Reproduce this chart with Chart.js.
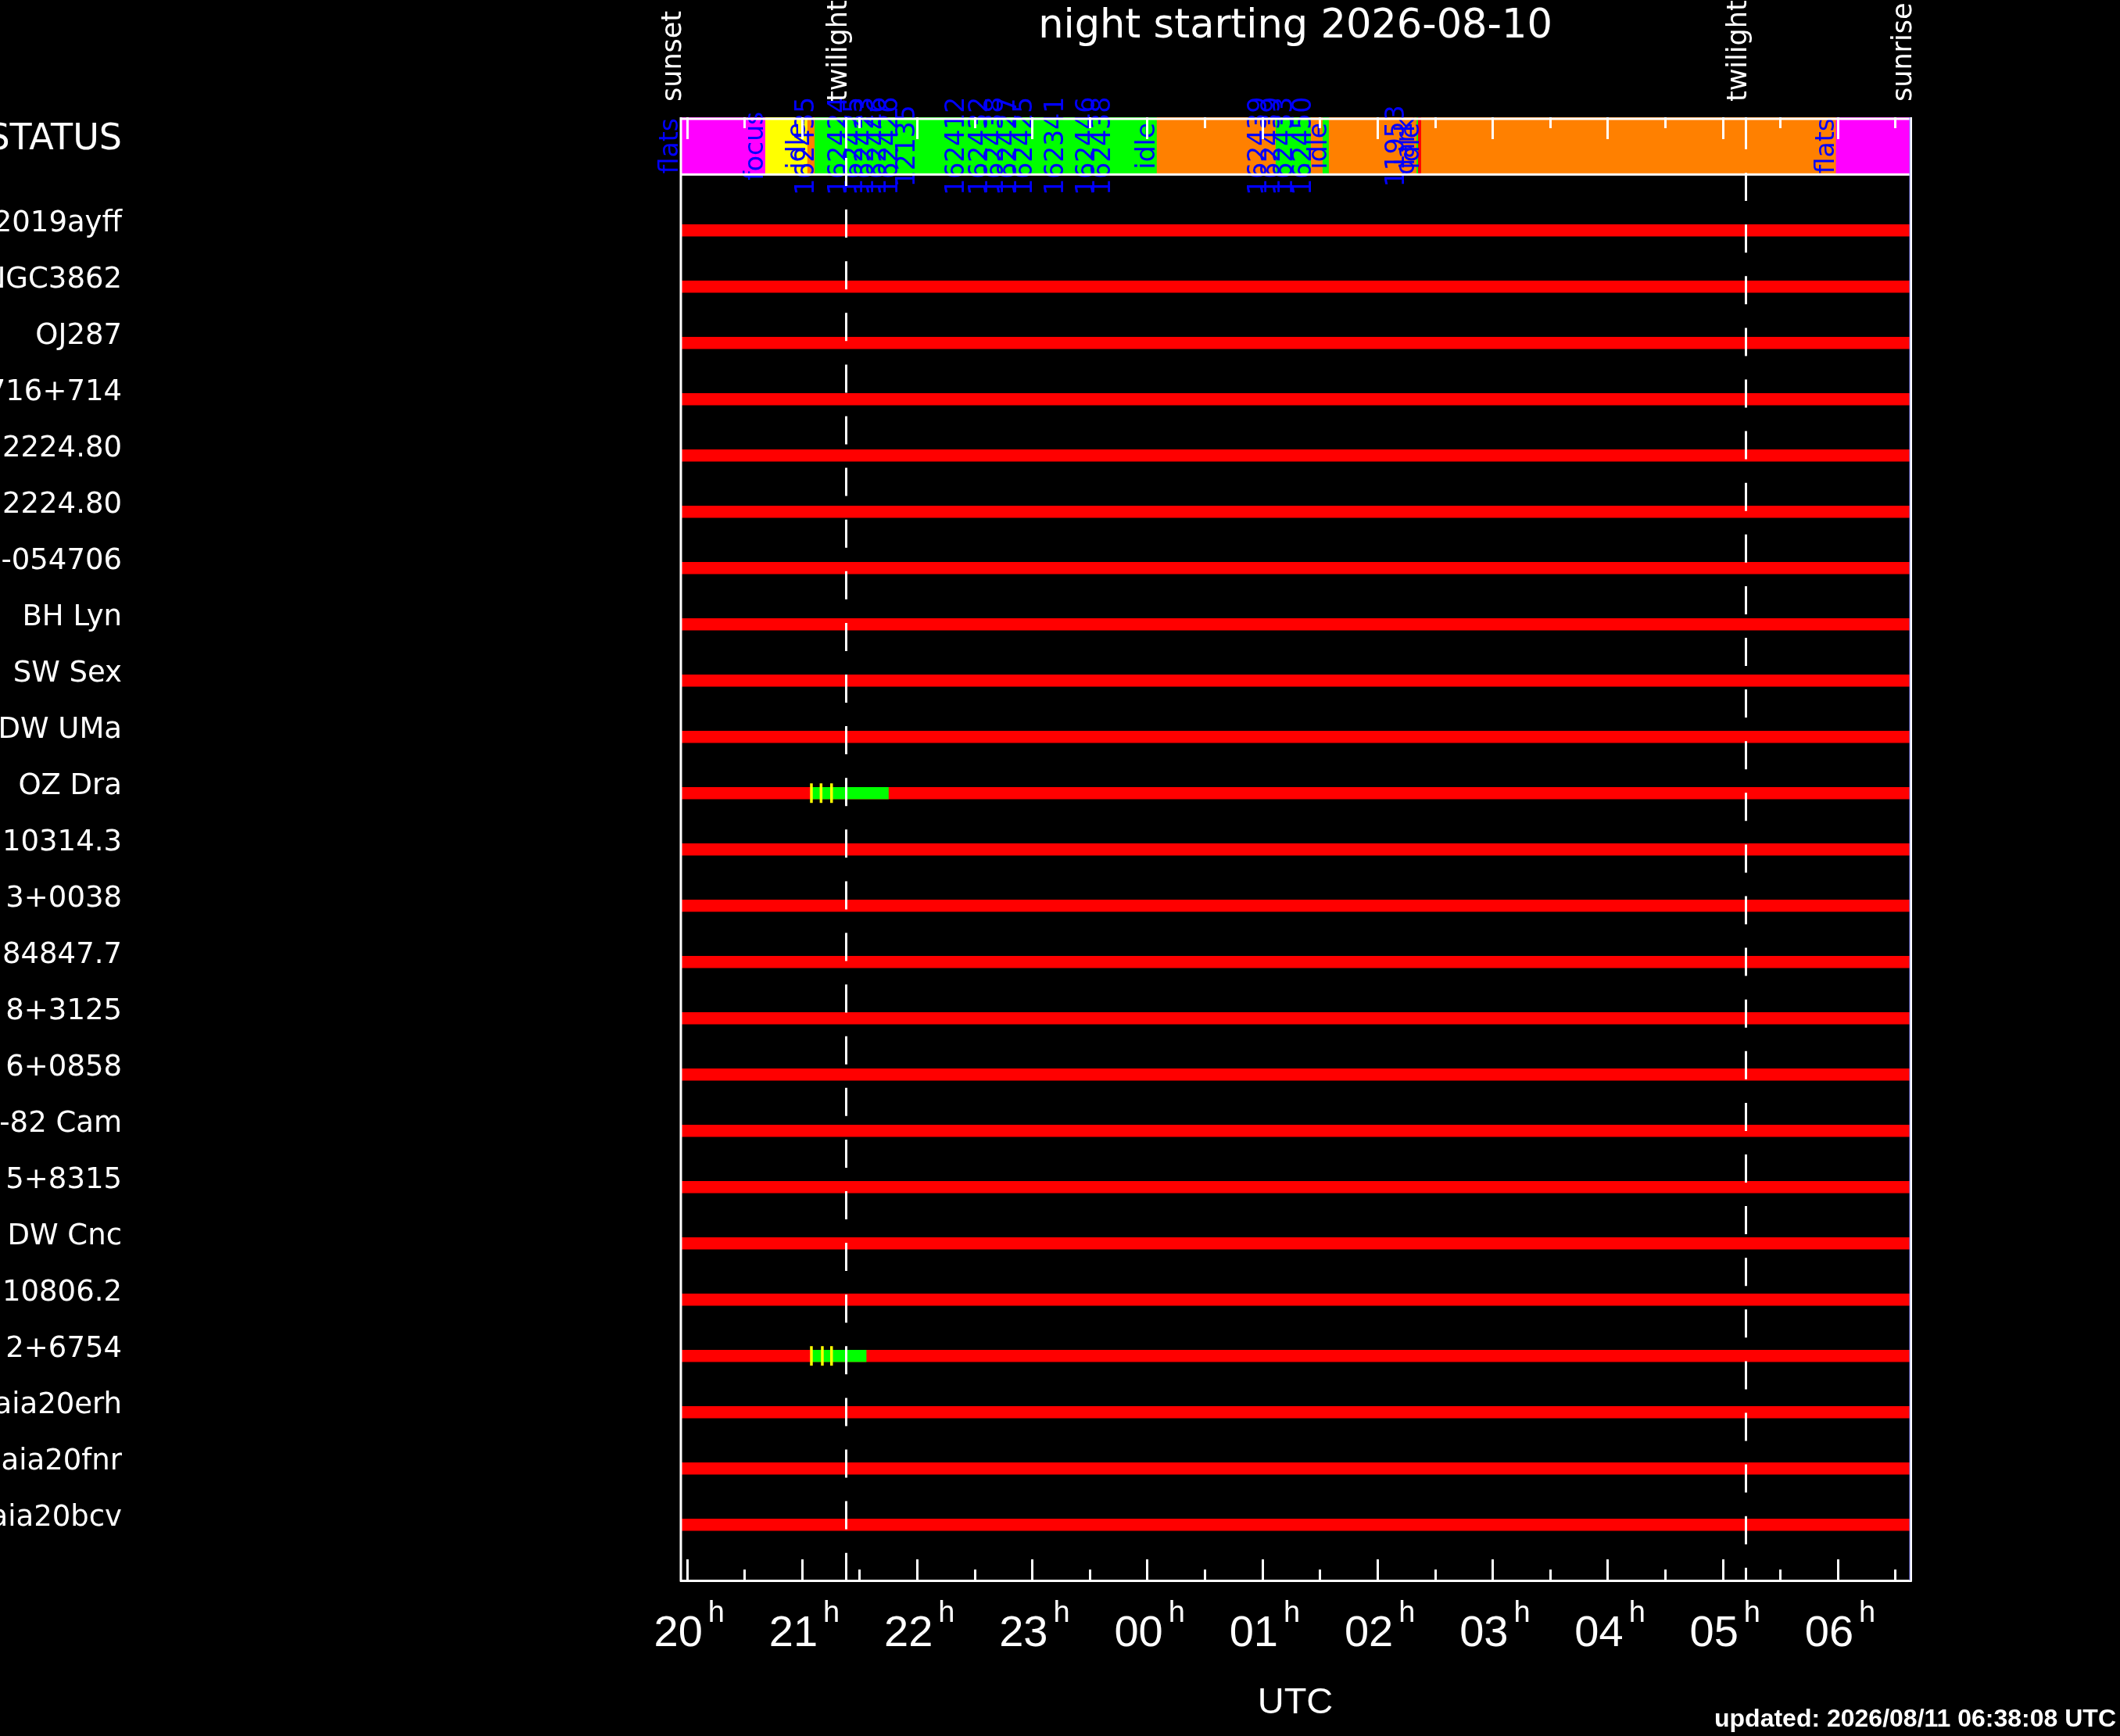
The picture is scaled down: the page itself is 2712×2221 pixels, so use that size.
<!DOCTYPE html>
<html>
<head>
<meta charset="utf-8">
<script src="https://cdn.jsdelivr.net/npm/chart.js@4.4.1/dist/chart.umd.min.js"></script>
<style>
  html, body { margin: 0; padding: 0; background: #000; }
  canvas { display: block; }
</style>
</head>
<body>
<canvas id="night" width="2712" height="2221"></canvas>
<script>
// ---- night summary data (times in hours after 00h of the start date) ----
var nightTitle = 'night starting 2026-08-10';
var updatedText = 'updated: 2026/08/11 06:38:08 UTC';

var targetNames = ['2019ayff', 'NGC3862', 'OJ287', 'S5 0716+714', '2224.80', '2224.80',
  '-054706', 'BH Lyn', 'SW Sex', 'DW UMa', 'OZ Dra', '10314.3', '3+0038', '84847.7',
  '8+3125', '6+0858', '-82 Cam', '5+8315', 'DW Cnc', '10806.2', '2+6754',
  'Gaia20erh', 'Gaia20fnr', 'Gaia20bcv'];

var nightStart = 19.942;   // sunset
var nightEnd = 30.633;     // sunrise

var hourTicks = [20, 21, 22, 23, 24, 25, 26, 27, 28, 29, 30];
var hourLabels = ['20', '21', '22', '23', '00', '01', '02', '03', '04', '05', '06'];

var eventNames = ['sunset', 'twilight', 'twilight', 'sunrise'];
var eventTimes = [19.942, 21.383, 29.202, 30.633];

// status bar
var statusStart = [19.942, 20.684, 21.050, 21.113, 24.086, 25.119, 25.425, 25.527, 25.581, 26.343, 26.356, 26.383, 29.987];
var statusEnd   = [20.684, 21.050, 21.113, 24.086, 25.119, 25.425, 25.527, 25.581, 26.343, 26.356, 26.383, 29.987, 30.633];
var statusState = ['flats', 'focus', 'idle', 'obs', 'idle', 'obs', 'idle', 'obs', 'idle', 'obs', 'dark', 'idle', 'flats'];
var stateColors = { flats: '#ff00ff', focus: '#ffff00', idle: '#ff8000', obs: '#00ff00', dark: '#ff0000' };

var statusLabels = ['flats', 'focus', 'idle', '162435', '162424', '162425', '162423', '162446',
  '162426', '12135', '162412', '162432', '162438', '162427', '162425', '162341', '162446',
  '162438', 'idle', '162439', '162439', '162433', '162450', 'idle', '11953', 'dark', 'idle', 'flats'];
var statusLabelTimes = [19.922, 20.664, 21.030, 21.105, 21.387, 21.523, 21.618, 21.727,
  21.829, 21.978, 22.407, 22.610, 22.746, 22.862, 22.998, 23.270, 23.542,
  23.678, 24.066, 25.037, 25.153, 25.262, 25.425, 25.560, 26.234, 26.322, 26.363, 29.966];

// observed blocks and exposure starts
var obsRow = [11, 21];
var obsStart = [21.083, 21.083];
var obsEnd = [21.752, 21.559];

var expRow = [11, 11, 11, 21, 21, 21];
var expTimes = [21.083, 21.167, 21.258, 21.083, 21.178, 21.258];

var STATUS_ROW = -0.5;

// ---- drawing ----
var decor = {
  id: 'decor',
  afterDatasetsDraw: function (chart) {
    var ctx = chart.ctx, a = chart.chartArea;
    var xs = chart.scales.x, ys = chart.scales.y;
    var statusMid = ys.getPixelForValue(STATUS_ROW);
    var statusBottom = statusMid + 36.5;
    ctx.save();

    // blue labels in status bar
    ctx.fillStyle = '#0000ff';
    ctx.font = '33px "DejaVu Sans"';
    ctx.textAlign = 'center';
    ctx.textBaseline = 'alphabetic';
    statusLabels.forEach(function (t, i) {
      ctx.save();
      ctx.translate(xs.getPixelForValue(statusLabelTimes[i]), statusMid);
      ctx.rotate(-Math.PI / 2);
      ctx.fillText(t, 0, 0);
      ctx.restore();
    });

    ctx.strokeStyle = '#ffffff';
    ctx.lineWidth = 3;
    ctx.lineCap = 'butt';

    // ticks on top of status bar and on the time axis
    for (var h = 20; h <= 30.5; h += 0.5) {
      var x = Math.round(xs.getPixelForValue(h)) + 0.5;
      var major = (h % 1 === 0);
      ctx.beginPath();
      ctx.moveTo(x, a.top);
      ctx.lineTo(x, a.top + (major ? 28 : 14));
      ctx.moveTo(x, a.bottom);
      ctx.lineTo(x, a.bottom - (major ? 27 : 14));
      ctx.stroke();
    }

    // twilight markers
    var dashFrom = [a.top + 52, a.top + 5];
    var k = 0;
    eventNames.forEach(function (n, i) {
      if (n !== 'twilight') return;
      var x = Math.round(xs.getPixelForValue(eventTimes[i])) + 0.5;
      ctx.beginPath();
      ctx.moveTo(x, a.top);
      ctx.lineTo(x, a.top + 40);
      ctx.stroke();
      ctx.setLineDash([36, 30.1]);
      ctx.beginPath();
      ctx.moveTo(x, dashFrom[k]);
      ctx.lineTo(x, a.bottom);
      ctx.stroke();
      ctx.setLineDash([]);
      k++;
    });

    // frame
    ctx.beginPath();
    ctx.moveTo(a.left, a.top + 2); ctx.lineTo(a.right, a.top + 2);
    ctx.moveTo(a.left, statusBottom); ctx.lineTo(a.right, statusBottom);
    ctx.moveTo(a.left + 1, a.top); ctx.lineTo(a.left + 1, a.bottom + 1.5);
    ctx.moveTo(a.left, a.bottom + 0.5); ctx.lineTo(a.right + 1.5, a.bottom + 0.5);
    ctx.moveTo(a.right + 0.5, a.top); ctx.lineTo(a.right + 0.5, a.bottom + 1.5);
    ctx.stroke();
    ctx.strokeStyle = '#8080ff';
    ctx.lineWidth = 1;
    ctx.beginPath();
    ctx.moveTo(a.right - 1, a.top); ctx.lineTo(a.right - 1, a.bottom);
    ctx.stroke();

    // sunset / twilight / sunrise
    ctx.fillStyle = '#ffffff';
    ctx.font = '35px "DejaVu Sans"';
    ctx.textAlign = 'left';
    eventNames.forEach(function (n, i) {
      ctx.save();
      ctx.translate(xs.getPixelForValue(eventTimes[i]) + 1, a.top - 20);
      ctx.rotate(-Math.PI / 2);
      ctx.fillText(n, 0, 0);
      ctx.restore();
    });

    // hour labels with superscript h
    hourTicks.forEach(function (h, i) {
      var x = xs.getPixelForValue(h);
      ctx.font = '56px "Liberation Sans"';
      ctx.textAlign = 'left';
      ctx.fillText(hourLabels[i], x - 42, a.bottom + 84);
      var w = ctx.measureText(hourLabels[i]).width;
      ctx.font = '38px "Liberation Sans"';
      ctx.fillText('h', x - 42 + w + 7, a.bottom + 53);
    });

    ctx.textAlign = 'center';
    ctx.font = '47px "Liberation Sans"';
    ctx.fillText('UTC', (a.left + a.right) / 2, a.bottom + 170);

    ctx.font = '51px "DejaVu Sans"';
    ctx.fillText(nightTitle, (a.left + a.right) / 2, 48);

    ctx.textAlign = 'right';
    ctx.font = 'bold 32px "Liberation Sans"';
    ctx.fillText(updatedText, chart.width - 5, chart.height - 12);

    ctx.restore();
  }
};

var statusData = statusStart.map(function (s, i) {
  return { y: STATUS_ROW, x: [s, statusEnd[i]] };
});
var rowData = targetNames.map(function (n, i) {
  return { y: i + 1, x: [nightStart, nightEnd] };
});
var obsData = obsRow.map(function (r, i) {
  return { y: r, x: [obsStart[i], obsEnd[i]] };
});
var expData = expRow.map(function (r, i) {
  return { y: r, x: expTimes[i] };
});

new Chart(document.getElementById('night'), {
  type: 'bar',
  data: {
    datasets: [
      {
        label: 'status',
        data: statusData,
        backgroundColor: statusState.map(function (s) { return stateColors[s]; }),
        barThickness: 73,
        grouped: false,
        order: 4
      },
      {
        label: 'not observed',
        data: rowData,
        backgroundColor: '#ff0000',
        barThickness: 15,
        grouped: false,
        order: 3
      },
      {
        label: 'observed',
        data: obsData,
        backgroundColor: '#00ff00',
        barThickness: 15,
        grouped: false,
        order: 2
      },
      {
        type: 'scatter',
        label: 'exposures',
        data: expData,
        pointStyle: 'line',
        rotation: 90,
        radius: 12.5,
        borderWidth: 3.5,
        borderColor: '#ffff00',
        backgroundColor: '#ffff00',
        order: 1
      }
    ]
  },
  options: {
    indexAxis: 'y',
    responsive: false,
    animation: false,
    devicePixelRatio: 1,
    layout: { padding: { left: 0, right: 268, top: 150, bottom: 199 } },
    plugins: { legend: { display: false }, tooltip: { enabled: false }, title: { display: false } },
    scales: {
      x: {
        type: 'linear',
        min: nightStart,
        max: nightEnd,
        display: false
      },
      y: {
        type: 'linear',
        reverse: true,
        min: -1.01,
        max: 24.99,
        offset: false,
        grid: { display: false, drawTicks: false, tickLength: 0 },
        border: { display: false },
        afterBuildTicks: function (scale) {
          var t = [{ value: STATUS_ROW }];
          targetNames.forEach(function (n, i) { t.push({ value: i + 1 }); });
          scale.ticks = t;
        },
        afterFit: function (scale) {
          scale.width = 870;
          scale.paddingTop = 0;
          scale.paddingBottom = 0;
        },
        ticks: {
          color: '#ffffff',
          padding: 714,
          labelOffset: -8,
          autoSkip: false,
          font: function (c) {
            return { family: 'DejaVu Sans', size: (c.tick && c.tick.value === STATUS_ROW) ? 46 : 37 };
          },
          callback: function (v) {
            return v === STATUS_ROW ? 'STATUS' : targetNames[v - 1];
          }
        }
      }
    }
  },
  plugins: [decor]
});
</script>
</body>
</html>
